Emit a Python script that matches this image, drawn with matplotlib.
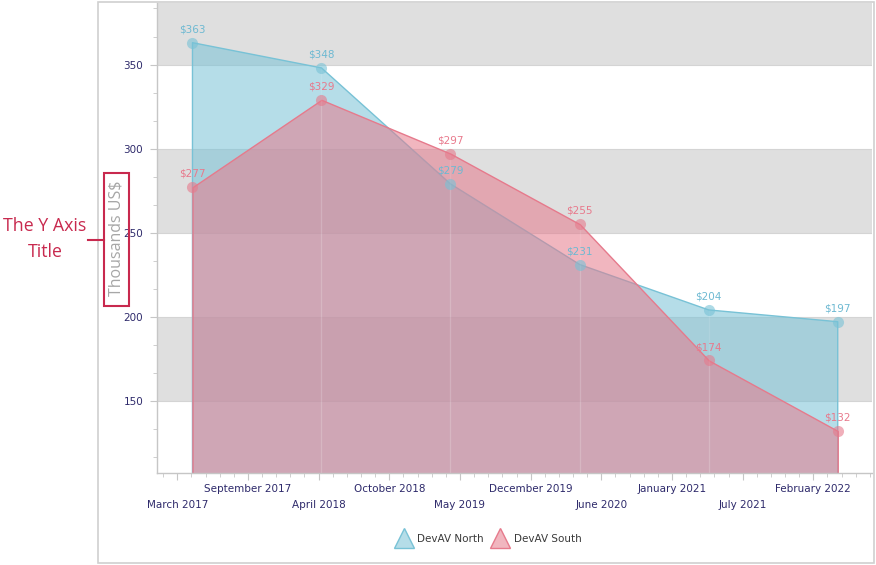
import numpy as np
import matplotlib
matplotlib.use('Agg')
import matplotlib.pyplot as plt
import matplotlib.dates as mdates
import matplotlib.patches as mpatches
from matplotlib.lines import Line2D
from matplotlib.colors import to_rgba

# --------------------------
# data
# --------------------------
point_dates = ['2017-04-22', '2018-04-22', '2019-04-22', '2020-04-22', '2021-04-22', '2022-04-22']
north = [363, 348, 279, 231, 204, 197]
south = [277, 329, 297, 255, 174, 132]
series_names = ['DevAV North', 'DevAV South']

tick_labels = ['March 2017', 'September 2017', 'April 2018', 'October 2018', 'May 2019',
               'December 2019', 'June 2020', 'January 2021', 'July 2021', 'February 2022']
tick_start = '2017-03-10'
tick_step_days = 200

y_ticks = [150, 200, 250, 300, 350]
bands = [(150, 200), (250, 300), (350, 400)]

north_color = '#78C2D6'
south_color = '#E67A8C'
label_north = '#6DB9D2'
label_south = '#E8798C'
text_color = '#2E2A6B'
axis_color = '#C6C6C6'
red = '#C8294E'

x = mdates.date2num(np.array(point_dates, dtype='datetime64[D]'))
tick_pos = mdates.date2num(np.datetime64(tick_start) + np.arange(len(tick_labels)) * np.timedelta64(tick_step_days, 'D'))

fig = plt.figure(figsize=(8.76, 5.65), dpi=100)
ax = fig.add_axes([157 / 876, 1 - 473 / 565, (872 - 157) / 876, 470 / 565])

# outer frame
fig.patches.append(mpatches.Rectangle((98 / 876, 2 / 565), (874 - 98) / 876, (563 - 2) / 565,
                                      transform=fig.transFigure, fill=False,
                                      edgecolor='#D0D0D0', linewidth=1.2))

for lo, hi in bands:
    ax.axhspan(lo, hi, color='#DFDFDF', zorder=0, linewidth=0)
for yt in y_ticks:
    ax.axhline(yt, color='#D4D4D4', linewidth=0.8, zorder=0.5)

y_lo, y_hi = 107, 386.6
x0 = tick_pos[0] - 57.4
x1 = tick_pos[0] + 1966

for vals, col in [(north, north_color), (south, south_color)]:
    ax.fill_between(x, 0, vals, facecolor=to_rgba(col, 0.55), edgecolor=col, linewidth=1, zorder=2)
    # faint seams between area segments
    ax.vlines(x[1:-1], 0, vals[1:-1], color='white', alpha=0.1, linewidth=1, zorder=2.5)
    ax.plot(x, vals, 'o', color=col, alpha=0.6, markersize=8, markeredgewidth=0, zorder=3)

for vals, col in [(north, label_north), (south, label_south)]:
    for xv, v in zip(x, vals):
        ax.annotate(f'${v}', (xv, v), xytext=(0, 6), textcoords='offset points',
                    ha='center', va='bottom', fontsize=7.5, color=col, zorder=5)

# axes styling
for s in ['top', 'right']:
    ax.spines[s].set_visible(False)
for s in ['left', 'bottom']:
    ax.spines[s].set_color(axis_color)
    ax.spines[s].set_linewidth(1)

ax.set_yticks(y_ticks)
ax.set_yticks(np.arange(350 - 50 / 3 * 15, 390, 50 / 3), minor=True)
ax.set_xticks(tick_pos)
ax.set_xticks(np.arange(tick_pos[0] - 40, x1, 40), minor=True)
ax.set_xticklabels([l if i % 2 else '\n' + l for i, l in enumerate(tick_labels)], linespacing=1.7)
ax.tick_params(which='major', length=5, color=axis_color, labelsize=7.5, labelcolor=text_color)
ax.tick_params(which='minor', length=3, color=axis_color)
ax.tick_params(axis='x', which='major', pad=3)
ax.tick_params(axis='y', which='major', pad=5)
ax.set_ylim(y_lo, y_hi)
ax.set_xlim(x0, x1)

# axis title and its callout
fig.text(116 / 876, 1 - 238 / 565, 'Thousands US$', rotation=90, ha='center', va='center',
         fontsize=11.5, color='#A6A6A6', family='Open Sans')
fig.patches.append(mpatches.Rectangle((104 / 876, 1 - 306 / 565), 25 / 876, 133 / 565,
                                      transform=fig.transFigure, fill=False,
                                      edgecolor=red, linewidth=1.5))
fig.lines.append(Line2D([88 / 876, 104 / 876], [1 - 240 / 565, 1 - 240 / 565],
                        transform=fig.transFigure, color=red, linewidth=1.5))
fig.text(45 / 876, 1 - 239 / 565, 'The Y Axis\nTitle', ha='center', va='center',
         fontsize=12.8, color=red, family='Open Sans', linespacing=1.55)

handles = [Line2D([], [], linestyle='none', marker='^', markersize=15,
                  markerfacecolor=to_rgba(c, 0.55), markeredgecolor=c, markeredgewidth=1)
           for c in [north_color, south_color]]
fig.legend(handles, series_names, loc='center', bbox_to_anchor=(489 / 876, 1 - 539 / 565),
           ncol=2, frameon=False, fontsize=7.5, labelcolor='#3A3A3A',
           handlelength=1.4, handletextpad=0.6, columnspacing=0.9)

plt.savefig('out.png', dpi=100)
